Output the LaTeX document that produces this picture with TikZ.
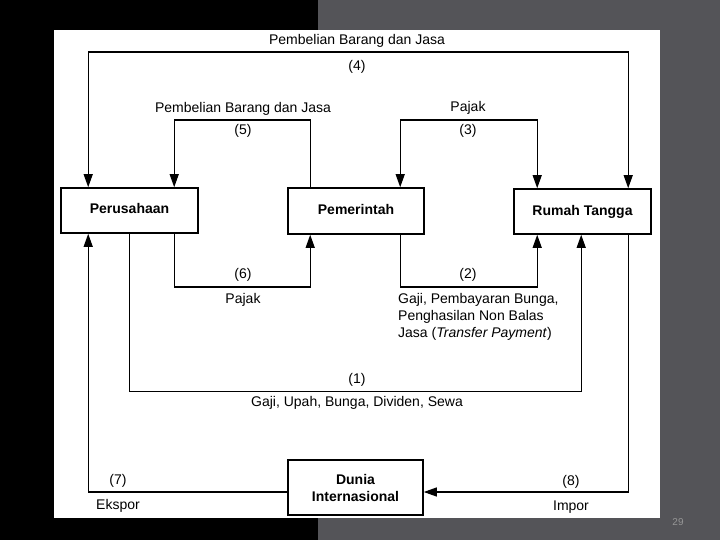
\documentclass[tikz,border=0pt]{standalone}
\usepackage{fontspec}
\setmainfont{Liberation Sans}
\usetikzlibrary{arrows.meta}
\definecolor{slidegray}{RGB}{84,84,88}
\definecolor{numgray}{RGB}{150,150,150}
\begin{document}
\begin{tikzpicture}[x=1pt,y=-1pt,
  box/.style={draw=black,line width=1.6pt,fill=white,inner sep=0pt,font=\fontsize{14}{17}\selectfont\bfseries,align=center},
  onebox/.style={box,text height=10pt,text depth=3pt},
  conn/.style={draw=black,line width=1.2pt},
  arr/.style={conn,-{Triangle[length=13pt,width=9pt]}},
  lbl/.style={font=\fontsize{14}{17}\selectfont,inner sep=0pt}]
\useasboundingbox (0,0) rectangle (720,540);
\fill[black] (0,0) rectangle (318,540);
\fill[slidegray] (318,0) rectangle (720,540);
\fill[white] (54,30) rectangle (660,517.5);
% boxes
\node[onebox,minimum width=137pt,minimum height=45pt] (perus) at (129.5,210.5) {Perusahaan};
\node[onebox,minimum width=136pt,minimum height=46pt] (pem) at (356,211) {Pemerintah};
\node[onebox,minimum width=137pt,minimum height=45pt] (rt) at (582.5,211.5) {Rumah Tangga};
\node[box,minimum width=135pt,minimum height=55pt] (dunia) at (355.5,487.5) {Dunia\\Internasional};
% corner coordinates of loops
\coordinate (c4) at (357,52);
\coordinate (c5) at (243,120);
\coordinate (c3) at (468,120);
\coordinate (c6) at (243,287);
\coordinate (c2) at (468,287);
\coordinate (c1) at (357,391.5);
% (4)
\draw[arr] (c4) -| ([xshift=28pt]perus.north west);
\draw[arr] (c4) -| ([xshift=115pt]rt.north west);
% (5)
\draw[arr] ([xshift=23pt]pem.north west) |- (c5) -| ([xshift=114pt]perus.north west);
% (3)
\draw[arr] (c3) -| ([xshift=113pt]pem.north west);
\draw[arr] (c3) -| ([xshift=24pt]rt.north west);
% (6)
\draw[arr] ([xshift=114pt]perus.south west) |- (c6) -| ([xshift=23pt]pem.south west);
% (2)
\draw[arr] ([xshift=113pt]pem.south west) |- (c2) -| ([xshift=24pt]rt.south west);
% (1)
\draw[arr] ([xshift=69pt]perus.south west) |- (c1) -| ([xshift=68pt]rt.south west);
% (7)
\draw[arr] ([yshift=-4.5pt]dunia.west) -| ([xshift=28pt]perus.south west);
% (8)
\draw[arr] ([xshift=115pt]rt.south west) |- ([yshift=-4.5pt]dunia.east);
% labels
\node[lbl] (t4) at (357,41) {Pembelian Barang dan Jasa};
\node[lbl] (n4) at (357,67) {(4)};
\node[lbl] (t5) at (243,109) {Pembelian Barang dan Jasa};
\node[lbl] (n5) at (243,131) {(5)};
\node[lbl] (t3) at (468,108) {Pajak};
\node[lbl] (n3) at (468,131) {(3)};
\node[lbl] (n6) at (243,275) {(6)};
\node[lbl] (t6) at (243,300) {Pajak};
\node[lbl] (n2) at (468,275) {(2)};
\node[lbl,anchor=west,align=left] (t2) at (398,317) {Gaji, Pembayaran Bunga,\\Penghasilan Non Balas\\Jasa (\textit{Transfer Payment})};
\node[lbl] (n1) at (357,380) {(1)};
\node[lbl] (t1) at (357,403) {Gaji, Upah, Bunga, Dividen, Sewa};
\node[lbl] (n7) at (118,481) {(7)};
\node[lbl] (t7) at (118,506) {Ekspor};
\node[lbl] (n8) at (571,482) {(8)};
\node[lbl] (t8) at (571,507) {Impor};
\node[font=\fontsize{10}{12}\selectfont,text=numgray,inner sep=0pt] (pg) at (678,522) {29};
\end{tikzpicture}
\end{document}
